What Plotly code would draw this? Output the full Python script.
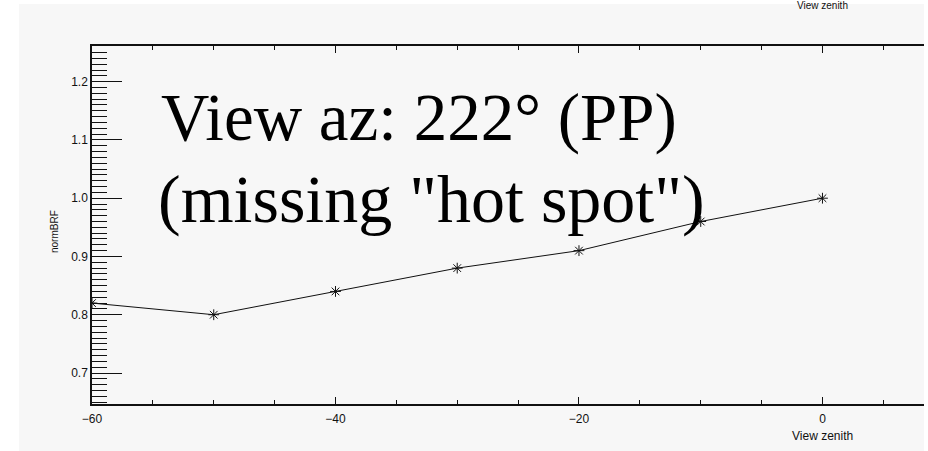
import plotly.graph_objects as go

# View zenith angle (degrees) and normalised BRF along the principal plane
view_zenith = [-60, -50, -40, -30, -20, -10, 0]
norm_brf = [0.82, 0.80, 0.84, 0.88, 0.91, 0.96, 1.00]

x_ticks = [-60, -40, -20, 0]
y_ticks = [0.7, 0.8, 0.9, 1.0, 1.1, 1.2]

W, H = 928, 451
ML, MR, MT, MB = 92, 4, 46, 47
PW, PH = W - ML - MR, H - MT - MB

def px(x):
    return (x - ML) / PW

def py(y):
    return (H - MB - y) / PH

tick_font = dict(family="Liberation Sans, Arial, sans-serif", size=12, color="#111")

fig = go.Figure()
fig.add_trace(go.Scatter(
    x=view_zenith, y=norm_brf, mode="lines+markers",
    line=dict(color="#111", width=1),
    marker=dict(symbol="asterisk-open", size=9, color="#111",
                line=dict(color="#111", width=1)),
    showlegend=False,
))

fig.update_layout(
    width=W, height=H,
    margin=dict(l=ML, r=MR, t=MT, b=MB),
    paper_bgcolor="#f7f7f7",
    plot_bgcolor="#f7f7f7",
    xaxis=dict(
        range=[-60, 8.34], tickmode="array", tickvals=x_ticks,
        ticktext=["\u221260", "\u221240", "\u221220", "0"],
        ticks="inside", ticklen=7, tickwidth=1, tickcolor="#111",
        minor=dict(dtick=5, tick0=0, ticks="inside", ticklen=4,
                   tickwidth=1, tickcolor="#111", showgrid=False),
        showline=True, linecolor="#111", linewidth=1.5, mirror="ticks",
        showgrid=False, zeroline=False, tickfont=tick_font,
        ticklabelstandoff=3,
    ),
    yaxis=dict(
        range=[0.6468, 1.2612], tickmode="array", tickvals=y_ticks,
        ticktext=["0.7", "0.8", "0.9", "1.0", "1.1", "1.2"],
        ticks="inside", ticklen=30, tickwidth=1, tickcolor="#111",
        minor=dict(dtick=0.01, tick0=0, ticks="inside", ticklen=15,
                   tickwidth=1, tickcolor="#111", showgrid=False),
        showline=True, linecolor="#111", linewidth=1.5, mirror=False,
        showgrid=False, zeroline=False, tickfont=tick_font,
    ),
    shapes=[
        # white page border around the grey panel
        dict(type="rect", xref="paper", yref="paper", layer="below",
             x0=px(0), x1=px(19), y0=py(H), y1=py(0),
             fillcolor="white", line=dict(width=0)),
        dict(type="rect", xref="paper", yref="paper", layer="below",
             x0=px(0), x1=px(W), y0=py(4), y1=py(0),
             fillcolor="white", line=dict(width=0)),
        dict(type="rect", xref="paper", yref="paper", layer="below",
             x0=px(924), x1=px(W), y0=py(H), y1=py(0),
             fillcolor="white", line=dict(width=0)),
    ],
    annotations=[
        dict(text="View az: 222\u00b0 (PP)", xref="paper", yref="paper",
             x=px(159), y=py(117), xanchor="left", yanchor="middle",
             showarrow=False,
             font=dict(family="Liberation Serif, Times New Roman, serif",
                       size=67, color="black")),
        dict(text="(missing \"hot spot\")", xref="paper", yref="paper",
             x=px(156), y=py(199), xanchor="left", yanchor="middle",
             showarrow=False,
             font=dict(family="Liberation Serif, Times New Roman, serif",
                       size=68, color="black")),
        dict(text="normBRF", xref="paper", yref="paper",
             x=px(55), y=py(232), xanchor="center", yanchor="middle",
             textangle=-90, showarrow=False,
             font=dict(family="Liberation Sans, Arial, sans-serif",
                       size=10, color="#111")),
        dict(text="View zenith", xref="x", yref="paper",
             x=0, y=py(436), xanchor="center", yanchor="middle",
             showarrow=False, font=tick_font),
        dict(text="View zenith", xref="x", yref="paper",
             x=0, y=py(5), xanchor="center", yanchor="middle",
             showarrow=False,
             font=dict(family="Liberation Sans, Arial, sans-serif",
                       size=10, color="#111")),
    ],
)

fig.write_html("out.html")
